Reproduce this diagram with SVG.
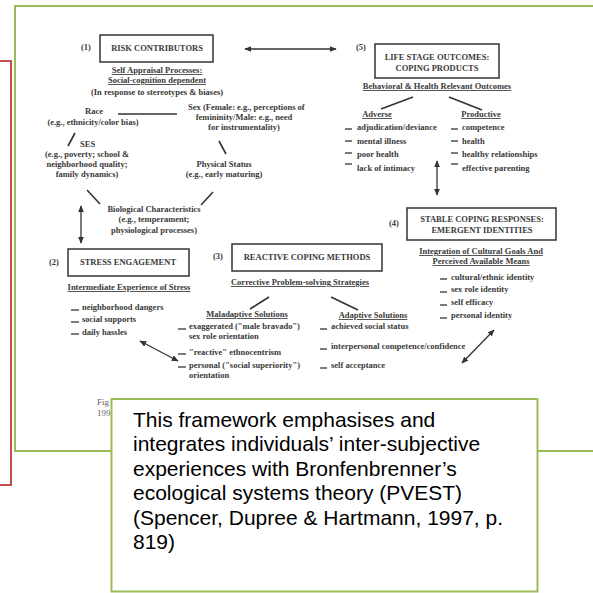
<svg xmlns="http://www.w3.org/2000/svg" width="593" height="593" viewBox="0 0 593 593">
<style>
.s{font-family:"Liberation Serif","Times New Roman",serif;font-weight:bold;font-size:8.5px;fill:#3a3a3a}
.c{text-anchor:middle}
.u{text-decoration:underline}
.bx{fill:none;stroke:#333;stroke-width:1.5}
.ln{stroke:#333;stroke-width:1.6;fill:none}
.ar{stroke:#333;stroke-width:1.3;fill:none;marker-start:url(#ah);marker-end:url(#ah)}
.d{stroke:#444;stroke-width:1.4}
.cap{font-family:"Liberation Sans",Arial,sans-serif;font-size:21px;fill:#000}
</style>
<defs>
<marker id="ah" viewBox="0 0 10 10" refX="9" refY="5" markerWidth="7" markerHeight="6" markerUnits="userSpaceOnUse" orient="auto-start-reverse" preserveAspectRatio="none">
<path d="M0,0 L10,5 L0,10 z" fill="#333"/>
</marker>
</defs>
<rect width="593" height="593" fill="#fff"/>
<rect id="frame" x="15" y="6" width="600" height="445" fill="none" stroke="#9BBB59" stroke-width="2"/>

<g id="connectors">
<line class="ar" x1="245" y1="49" x2="336" y2="49"/>
<line class="ar" x1="81" y1="206" x2="81" y2="243"/>
<line class="ar" x1="437" y1="161" x2="437" y2="195"/>
<line class="ar" x1="140" y1="341" x2="178" y2="361"/>
<line class="ar" x1="494" y1="330" x2="462" y2="363"/>
<line class="ln" x1="118" y1="114" x2="177" y2="114"/>
<line class="ln" x1="68" y1="146" x2="75" y2="133"/>
<line class="ln" x1="219" y1="141" x2="226" y2="154"/>
<line class="ln" x1="87" y1="190" x2="100" y2="204"/>
<line class="ln" x1="213" y1="192" x2="201" y2="205"/>
<line class="ln" x1="381" y1="109" x2="413" y2="97"/>
<line class="ln" x1="449" y1="97" x2="482" y2="110"/>
<line class="ln" x1="250" y1="309" x2="269" y2="297"/>
<line class="ln" x1="331" y1="297" x2="358" y2="310"/>
</g>

<g id="n1">
<text class="s c" x="86" y="50">(1)</text>
<rect class="bx" x="100" y="35" width="113" height="27"/>
<text class="s c" x="157" y="51">RISK CONTRIBUTORS</text>
<text class="s c u" x="157" y="73">Self Appraisal Processes:</text>
<text class="s c u" x="157" y="83">Social-cognition dependent</text>
<text class="s c" x="157" y="95">(In response to stereotypes &amp; biases)</text>
</g>
<g id="race">
<text class="s c" x="94" y="114">Race</text>
<text class="s c" x="93" y="125">(e.g., ethnicity/color bias)</text>
</g>
<g id="sex">
<text class="s" x="188" y="110">Sex (Female: e.g., perceptions of</text>
<text class="s c" x="244" y="120">femininity/Male: e.g., need</text>
<text class="s c" x="244" y="130">for instrumentality)</text>
</g>
<g id="ses">
<text class="s" x="80" y="147">SES</text>
<text class="s c" x="87" y="157">(e.g., poverty; school &amp;</text>
<text class="s c" x="87" y="167">neighborhood quality;</text>
<text class="s c" x="87" y="177">family dynamics)</text>
</g>
<g id="physical">
<text class="s c" x="224" y="167">Physical Status</text>
<text class="s c" x="224" y="177">(e.g., early maturing)</text>
</g>
<g id="bio">
<text class="s c" x="154" y="212">Biological Characteristics</text>
<text class="s c" x="154" y="222">(e.g., temperament;</text>
<text class="s c" x="154" y="233">physiological processes)</text>
</g>

<g id="n5">
<text class="s c" x="361" y="50">(5)</text>
<rect class="bx" x="375" y="44" width="124" height="34"/>
<text class="s c" x="437" y="60">LIFE STAGE OUTCOMES:</text>
<text class="s c" x="437" y="71">COPING PRODUCTS</text>
<text class="s c u" x="437" y="89">Behavioral &amp; Health Relevant Outcomes</text>
</g>
<g id="adverse">
<text class="s c u" x="377" y="117">Adverse</text>
<line class="d" x1="345" y1="129" x2="352" y2="129"/>
<text class="s" x="357" y="130">adjudication/deviance</text>
<line class="d" x1="345" y1="141" x2="352" y2="141"/>
<text class="s" x="357" y="144">mental illness</text>
<line class="d" x1="345" y1="153" x2="352" y2="153"/>
<text class="s" x="357" y="157">poor health</text>
<line class="d" x1="345" y1="164" x2="352" y2="164"/>
<text class="s" x="357" y="171">lack of intimacy</text>
</g>
<g id="productive">
<text class="s c u" x="481" y="117">Productive</text>
<line class="d" x1="451" y1="129" x2="458" y2="129"/>
<text class="s" x="462" y="130">competence</text>
<line class="d" x1="451" y1="141" x2="458" y2="141"/>
<text class="s" x="462" y="144">health</text>
<line class="d" x1="451" y1="153" x2="458" y2="153"/>
<text class="s" x="462" y="157">healthy relationships</text>
<line class="d" x1="451" y1="164" x2="458" y2="164"/>
<text class="s" x="462" y="171">effective parenting</text>
</g>

<g id="n2">
<text class="s c" x="54" y="265">(2)</text>
<rect class="bx" x="68" y="249" width="121" height="27"/>
<text class="s c" x="128" y="265">STRESS ENGAGEMENT</text>
<text class="s c u" x="129" y="290">Intermediate Experience of Stress</text>
<line class="d" x1="71" y1="310" x2="79" y2="310"/>
<text class="s" x="82" y="310">neighborhood dangers</text>
<line class="d" x1="71" y1="322" x2="79" y2="322"/>
<text class="s" x="82" y="322">social supports</text>
<line class="d" x1="71" y1="334" x2="79" y2="334"/>
<text class="s" x="82" y="335">daily hassles</text>
</g>

<g id="n3">
<text class="s c" x="218" y="259">(3)</text>
<rect class="bx" x="232" y="244" width="150" height="27"/>
<text class="s c" x="307" y="260">REACTIVE COPING METHODS</text>
<text class="s c u" x="300" y="285">Corrective Problem-solving Strategies</text>
</g>
<g id="maladaptive">
<text class="s c u" x="247" y="317">Maladaptive Solutions</text>
<line class="d" x1="178" y1="329" x2="186" y2="329"/>
<text class="s" x="189" y="329">exaggerated ("male bravado")</text>
<text class="s" x="189" y="339">sex role orientation</text>
<line class="d" x1="178" y1="354" x2="186" y2="354"/>
<text class="s" x="189" y="355">"reactive" ethnocentrism</text>
<line class="d" x1="178" y1="367" x2="186" y2="367"/>
<text class="s" x="189" y="368">personal ("social superiority")</text>
<text class="s" x="189" y="378">orientation</text>
</g>
<g id="adaptive">
<text class="s c u" x="373" y="318">Adaptive Solutions</text>
<line class="d" x1="320" y1="329" x2="327" y2="329"/>
<text class="s" x="331" y="329">achieved social status</text>
<line class="d" x1="320" y1="349" x2="327" y2="349"/>
<text class="s" x="331" y="349">interpersonal competence/confidence</text>
<line class="d" x1="320" y1="368" x2="327" y2="368"/>
<text class="s" x="331" y="368">self acceptance</text>
</g>

<g id="n4">
<text class="s c" x="394" y="226">(4)</text>
<rect class="bx" x="407" y="208" width="149" height="32"/>
<text class="s c" x="482" y="222">STABLE COPING RESPONSES:</text>
<text class="s c" x="482" y="233">EMERGENT IDENTITIES</text>
<text class="s c u" x="481" y="254">Integration of Cultural Goals And</text>
<text class="s c u" x="481" y="264">Perceived Available Means</text>
<line class="d" x1="440" y1="279" x2="447" y2="279"/>
<text class="s" x="451" y="280">cultural/ethnic identity</text>
<line class="d" x1="440" y1="292" x2="447" y2="292"/>
<text class="s" x="451" y="292">sex role identity</text>
<line class="d" x1="440" y1="305" x2="447" y2="305"/>
<text class="s" x="451" y="305">self efficacy</text>
<line class="d" x1="440" y1="318" x2="447" y2="318"/>
<text class="s" x="451" y="318">personal identity</text>
</g>

<g id="figlabel">
<text x="97" y="405" style="font-family:'Liberation Serif',serif;font-size:9px;fill:#666">Fig</text>
<text x="97" y="416" style="font-family:'Liberation Serif',serif;font-size:9px;fill:#666">199</text>
</g>

<g id="caption">
<rect x="111.5" y="399" width="426" height="192.5" fill="#fff" stroke="#9BBB59" stroke-width="2"/>
<text class="cap" x="133" y="427">This framework emphasises and</text>
<text class="cap" x="133" y="451">integrates individuals’ inter-subjective</text>
<text class="cap" x="133" y="476">experiences with Bronfenbrenner’s</text>
<text class="cap" x="133" y="500">ecological systems theory (PVEST)</text>
<text class="cap" x="133" y="525">(Spencer, Dupree &amp; Hartmann, 1997, p.</text>
<text class="cap" x="133" y="549">819)</text>
</g>

<path id="redframe" d="M0,61 H11 V485 H0" fill="none" stroke="#C0504D" stroke-width="2"/>
</svg>
